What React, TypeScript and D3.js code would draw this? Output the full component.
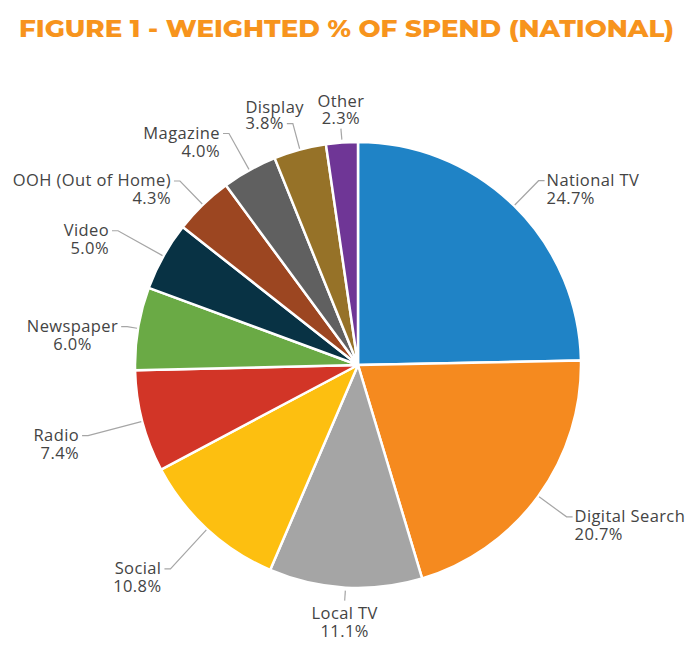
import React from "react";
import * as d3 from "d3";

const categories = ["National TV", "Digital Search", "Local TV", "Social", "Radio", "Newspaper", "Video", "OOH (Out of Home)", "Magazine", "Display", "Other"];
const values = [24.7, 20.7, 11.1, 10.8, 7.4, 6.0, 5.0, 4.3, 4.0, 3.8, 2.3];
const valueLabels = ["24.7%", "20.7%", "11.1%", "10.8%", "7.4%", "6.0%", "5.0%", "4.3%", "4.0%", "3.8%", "2.3%"];
const colors = ["#1F83C6", "#F58A1F", "#A5A5A5", "#FDBF10", "#D23527", "#6AAA45", "#083244", "#9C4621", "#606060", "#967228", "#6F3696"];

// label layout: elbow radius & placement mode
const labelRadius = [258, 258, 236, 277, 279, 234, 275, 256, 265, 250, 237];
const labelMode = ["R", "R", "B", "L", "L", "Lc", "L", "L", "L", "L2", "T"];

const W = 700, H = 656;
const cx = 358, cy = 365, R = 223;
const FS = 16.5;
const LS = 0.4;
const FONT = `${FS}px 'Open Sans'`;
const LH = 18;

function measure(t: string) {
  const c = document.createElement("canvas").getContext("2d")!;
  c.font = FONT;
  return c.measureText(t).width + LS * t.length;
}

export default function App() {
  const pie = d3.pie<number>().sort(null).value((d) => d);
  const arcs = pie(values);
  const arc = d3.arc<d3.PieArcDatum<number>>().innerRadius(0).outerRadius(R);
  const pt = (a: number, r: number) => [cx + r * Math.sin(a), cy - r * Math.cos(a)];
  const gap = 6;

  return (
    <svg width={W} height={H} style={{ display: "block", position: "absolute", left: 0, top: 0 }}>
      <rect width={W} height={H} fill="#fff" />
      <text x={19} y={37} textLength={655} lengthAdjust="spacingAndGlyphs" fontFamily="Montserrat, 'Open Sans', sans-serif" fontWeight={800} fontSize={23} fill="#F7941D">
        FIGURE 1 - WEIGHTED % OF SPEND (NATIONAL)
      </text>
      <g transform={`translate(${cx},${cy})`}>
        {arcs.map((a, i) => (
          <path key={i} d={arc(a)!} fill={colors[i]} stroke="#fff" strokeWidth={2.5} strokeLinejoin="round" />
        ))}
      </g>
      <g fontFamily="'Open Sans', sans-serif" fontSize={FS} letterSpacing={LS} fill="#444">
        {arcs.map((a, i) => {
          const mid = (a.startAngle + a.endAngle) / 2;
          const [ex, ey] = pt(mid, R + 1);
          const [bx, by] = pt(mid, labelRadius[i]);
          const mode = labelMode[i];
          const l1 = categories[i], l2 = valueLabels[i];
          const w1 = measure(l1), w2 = measure(l2);
          let line = "";
          let t1x = 0, t1y = 0, t2x = 0, t2y = 0, anchor1 = "start", anchor2 = "start";
          if (mode === "R") {
            line = `M${ex},${ey}L${bx},${by}L${bx + gap},${by}`;
            t1x = t2x = bx + gap + 2; t1y = by + 5; t2y = t1y + LH;
          } else if (mode === "L" || mode === "Lc") {
            line = `M${ex},${ey}L${bx},${by}L${bx - gap},${by}`;
            const right = bx - gap - 3;
            if (mode === "L") {
              anchor1 = anchor2 = "end"; t1x = t2x = right;
            } else {
              const bw = Math.max(w1, w2);
              anchor1 = anchor2 = "middle"; t1x = t2x = right - bw / 2;
            }
            t1y = by + 5; t2y = t1y + LH;
          } else if (mode === "L2") {
            line = `M${ex},${ey}L${bx},${by}L${bx - gap},${by}`;
            const left = bx - gap - 3 - w2;
            t1x = t2x = left; t2y = by + 5; t1y = t2y - LH + 2;
          } else if (mode === "B") {
            line = `M${ex},${ey + 2}L${bx},${by}`;
            anchor1 = anchor2 = "middle"; t1x = t2x = bx; t1y = by + 18; t2y = t1y + LH;
          } else {
            line = `M${ex},${ey - 2}L${bx},${by}`;
            anchor1 = anchor2 = "middle"; t1x = t2x = bx; t2y = by - 5; t1y = t2y - LH + 1;
          }
          return (
            <g key={i}>
              <path d={line} fill="none" stroke="#A6A6A6" strokeWidth={1.2} />
              <text x={t1x} y={t1y} textAnchor={anchor1 as any}>{l1}</text>
              <text x={t2x} y={t2y} textAnchor={anchor2 as any}>{l2}</text>
            </g>
          );
        })}
      </g>
    </svg>
  );
}
